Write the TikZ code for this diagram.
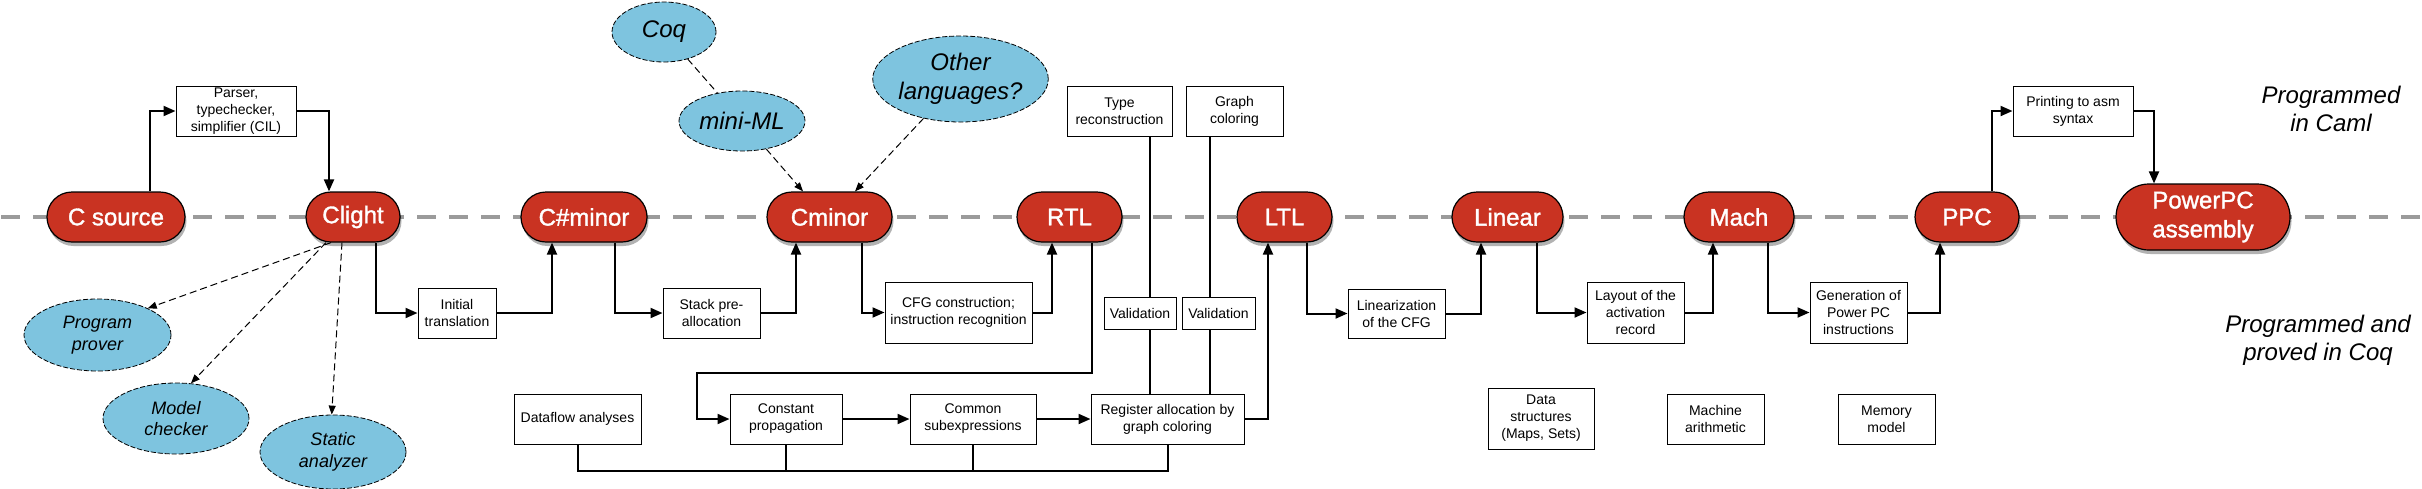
\documentclass[tikz,border=0pt]{standalone}
\usepackage{fontspec}
\setmainfont{Liberation Sans}
\newfontfamily\langfont{Liberation Sans}[FakeBold=1.4]
\usetikzlibrary{shapes.geometric,shapes.misc,arrows.meta,shadows}
\definecolor{cred}{RGB}{201,51,34}
\definecolor{cblue}{RGB}{126,196,223}
\definecolor{sepgray}{RGB}{155,155,155}
\begin{document}
\begin{tikzpicture}[x=1pt,y=-1pt,
  lang/.style={rounded rectangle, draw=black, line width=1.2pt, fill=cred, text=white,
    minimum height=50pt, inner sep=0pt, align=center,
    font=\langfont\fontsize{24pt}{29pt}\selectfont,
    drop shadow={shadow xshift=1.5pt, shadow yshift=-4pt, opacity=0.3, fill=black}},
  pbox/.style={rectangle, draw=black, line width=1pt, fill=white, inner sep=0pt,
    align=center, font=\fontsize{14pt}{17pt}\selectfont},
  tool/.style={ellipse, draw=black, line width=0.8pt, dash pattern=on 5pt off 2pt,
    fill=cblue, inner sep=0pt, align=center,
    font=\itshape\fontsize{18pt}{21.5pt}\selectfont},
  bigtool/.style={tool, font=\itshape\fontsize{24pt}{29pt}\selectfont},
  arr/.style={line width=2pt, -{Triangle[length=12pt,width=10pt]}},
  link/.style={line width=2pt},
  darr/.style={line width=1pt, dash pattern=on 7pt off 4pt, -{Triangle[length=9pt,width=7pt]}},
  dlink/.style={line width=1pt, dash pattern=on 7pt off 4pt},
  sepline/.style={draw=sepgray, line width=4pt, dash pattern=on 19pt off 13pt},
  note/.style={align=center, font=\itshape\fontsize{24pt}{28pt}\selectfont}
]
\useasboundingbox (0,0) rectangle (2422,488);

% separator
\coordinate (sepL) at (1,217);
\coordinate (sepR) at (2422,217);
\draw[sepline] (sepL) -- (sepR);

% languages
\node[lang, minimum width=138pt] (csrc) at (116,217) {C source};
\node[lang, minimum width=94pt] (clight) at (353,217) {Clight};
\node[lang, minimum width=126pt] (csharp) at (584,217) {C\#minor};
\node[lang, minimum width=125pt] (cminor) at (829.5,217) {Cminor};
\node[lang, minimum width=105pt] (rtl) at (1069.5,217) {RTL};
\node[lang, minimum width=95pt] (ltl) at (1284.5,217) {LTL};
\node[lang, minimum width=111pt] (linear) at (1507.5,217) {Linear};
\node[lang, minimum width=110pt] (mach) at (1739,217) {Mach};
\node[lang, minimum width=104pt] (ppc) at (1967,217) {PPC};
\node[lang, minimum width=174pt, minimum height=66pt] (ppcasm) at (2203,217) {PowerPC\\assembly};

% boxes
\node[pbox, minimum width=120pt, minimum height=50pt] (parser) at (236,111) {Parser,\\typechecker,\\simplifier (CIL)};
\node[pbox, minimum width=120pt, minimum height=50pt] (printing) at (2073,111) {Printing to asm\\syntax};
\node[pbox, minimum width=105pt, minimum height=50pt] (typerec) at (1119.5,111) {Type\\reconstruction};
\node[pbox, minimum width=97pt, minimum height=50pt] (graphcol) at (1234.5,111) {Graph\\coloring};
\node[pbox, minimum width=78pt, minimum height=50pt] (inittr) at (457,313) {Initial\\translation};
\node[pbox, minimum width=97pt, minimum height=50pt] (stack) at (711.5,313) {Stack pre-\\allocation};
\node[pbox, minimum width=147pt, minimum height=61pt] (cfg) at (958.5,312.5) {CFG construction;\\instruction recognition};
\node[pbox, minimum width=97pt, minimum height=49pt] (linz) at (1396.5,313.5) {Linearization\\of the CFG};
\node[pbox, minimum width=97pt, minimum height=61pt] (layout) at (1635.5,312.5) {Layout of the\\activation\\record};
\node[pbox, minimum width=97pt, minimum height=61pt] (gen) at (1858.5,312.5) {Generation of\\Power PC\\instructions};
\node[pbox, minimum width=127pt, minimum height=50pt] (dataflow) at (577.5,419) {Dataflow analyses};
\node[pbox, minimum width=112pt, minimum height=50pt] (constprop) at (786,419) {Constant\\propagation};
\node[pbox, minimum width=126pt, minimum height=50pt] (cse) at (973,419) {Common\\subexpressions};
\node[pbox, minimum width=153pt, minimum height=50pt] (regalloc) at (1167.5,419) {Register allocation by\\graph coloring};
\node[pbox, minimum width=106pt, minimum height=61pt] (datastruct) at (1541,418.5) {Data\\structures\\(Maps, Sets)};
\node[pbox, minimum width=97pt, minimum height=50pt] (macharith) at (1715.5,419) {Machine\\arithmetic};
\node[pbox, minimum width=97pt, minimum height=50pt] (memmodel) at (1886.5,419) {Memory\\model};

% validation lines (behind validation boxes)
\coordinate (tl) at ([xshift=30.5pt]typerec.south);
\coordinate (gl) at ([xshift=-24.5pt]graphcol.south);
\node[pbox, minimum width=72pt, minimum height=32pt] (valid1) at (1140,313) {Validation};
\node[pbox, minimum width=73pt, minimum height=32pt] (valid2) at (1218.5,313) {Validation};
\draw[link] (tl) -- (tl |- valid1.north);
\draw[link] (valid1.south -| tl) -- (regalloc.north -| tl);
\draw[link] (gl) -- (gl |- valid2.north);
\draw[link] (valid2.south -| gl) -- (regalloc.north -| gl);

% tools
\node[bigtool, minimum width=104pt, minimum height=60pt] (coq) at (664,32) {Coq};
\node[bigtool, minimum width=126pt, minimum height=60pt] (miniml) at (742,121) {mini-ML};
\node[bigtool, minimum width=169pt, minimum height=86pt] (otherlang) at (960.5,79) {Other\\languages?};
\node[tool, minimum width=147pt, minimum height=72pt] (prover) at (97.5,335) {Program\\prover};
\node[tool, minimum width=146pt, minimum height=71pt] (modelch) at (176,418.5) {Model\\checker};
\node[tool, minimum width=146pt, minimum height=74pt] (static) at (333,452) {Static\\analyzer};

% notes
\node[note] (caml) at (2331,109) {Programmed\\in Caml};
\node[note] (coqnote) at (2318,340) {Programmed and\\proved in Coq};

% main chain
\draw[arr] ([xshift=34pt]csrc.north) |- (parser.west);
\draw[arr] (parser.east) -| ([xshift=-24pt]clight.north);
\draw[arr] ([xshift=23pt]clight.south) |- (inittr.west);
\draw[arr] (inittr.east) -| ([xshift=-32pt]csharp.south);
\draw[arr] ([xshift=31pt]csharp.south) |- (stack.west);
\draw[arr] (stack.east) -| ([xshift=-33.5pt]cminor.south);
\draw[arr] ([xshift=32.5pt]cminor.south) |- (cfg.west);
\draw[arr] (cfg.east) -| ([xshift=-17.5pt]rtl.south);
\draw[arr] ([xshift=22.5pt]rtl.south) -- ++(0,130) -| ([xshift=-33pt]constprop.west) -- (constprop.west);
\draw[arr] (constprop.east) -- (cse.west);
\draw[arr] (cse.east) -- (regalloc.west);
\draw[arr] (regalloc.east) -| ([xshift=-16.5pt]ltl.south);
\draw[arr] ([xshift=22.5pt]ltl.south) |- (linz.west);
\draw[arr] (linz.east) -| ([xshift=-26.5pt]linear.south);
\draw[arr] ([xshift=29.5pt]linear.south) |- (layout.west);
\draw[arr] (layout.east) -| ([xshift=-26pt]mach.south);
\draw[arr] ([xshift=29pt]mach.south) |- (gen.west);
\draw[arr] (gen.east) -| ([xshift=-27pt]ppc.south);
\draw[arr] ([xshift=25pt]ppc.north) |- (printing.west);
\draw[arr] (printing.east) -| ([xshift=-49pt]ppcasm.north);

% bus of optimisations
\coordinate (bus) at (0,471);
\draw[link] (dataflow.south) -- (dataflow.south |- bus) -- (regalloc.south |- bus) -- (regalloc.south);
\draw[link] (constprop.south) -- (constprop.south |- bus);
\draw[link] (cse.south) -- (cse.south |- bus);

% dashed tool links
\draw[darr] (clight.south west) -- (prover.28);
\draw[darr] ([xshift=-27pt]clight.south) -- (modelch.67);
\draw[darr] ([xshift=-11pt]clight.south) -- (static.92);
\draw[dlink] (coq) -- (miniml);
\draw[darr] (miniml) -- ([xshift=-26.5pt]cminor.north);
\draw[darr] (otherlang) -- ([xshift=25.5pt]cminor.north);
\end{tikzpicture}
\end{document}
